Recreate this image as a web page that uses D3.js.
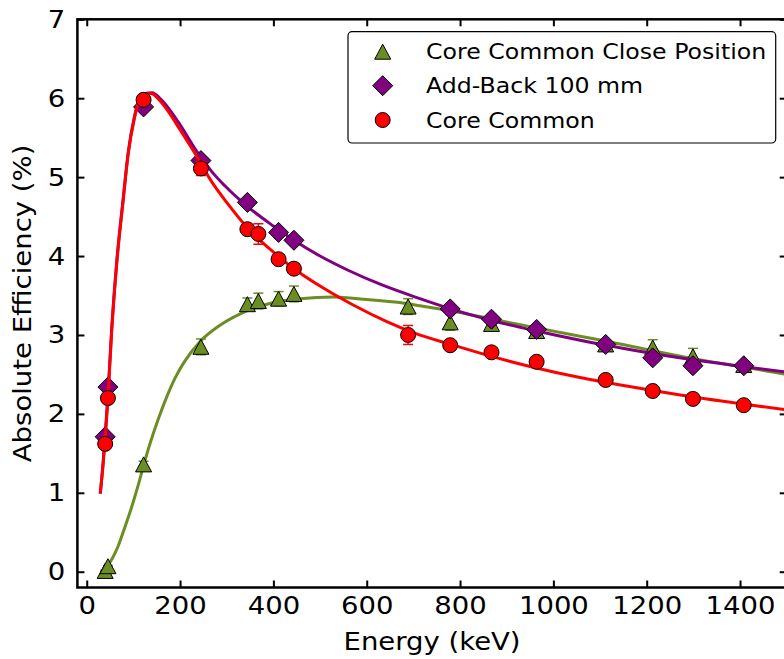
<!DOCTYPE html>
<html>
<head>
<meta charset="utf-8">
<script src="https://cdn.jsdelivr.net/npm/d3@7"></script>
<style>
  html, body { margin: 0; padding: 0; background: #fff; }
  svg { display: block; font-family: "DejaVu Sans", sans-serif; }
</style>
</head>
<body>
<svg id="chart" width="784" height="659"></svg>
<script>
// Eu-152 gamma-line energies (keV)
const energies = [39.5, 45.4, 121.8, 244.7, 344.3, 367.8, 411.1, 444.0, 688.7, 778.9, 867.4, 964.1, 1112.1, 1212.9, 1299.1, 1408.0];

// Core Common, close position
const closeEff = [0.01, 0.07, 1.36, 2.85, 3.39, 3.43, 3.46, 3.52, 3.36, 3.16, 3.14, 3.05, 2.88, 2.84, 2.73, 2.62];
const closeErr = [0.01, 0.01, 0.04, 0.10, 0.08, 0.10, 0.09, 0.10, 0.10, 0.10, 0.05, 0.05, 0.05, 0.10, 0.10, 0.05];

// Add-Back at 100 mm
const addBackEnergies = [39.5, 45.4, 121.8, 244.7, 344.3, 411.1, 444.0, 778.9, 867.4, 964.1, 1112.1, 1212.9, 1299.1, 1408.0];
const addBackEff = [1.71, 2.34, 5.89, 5.21, 4.68, 4.30, 4.20, 3.33, 3.20, 3.07, 2.88, 2.71, 2.61, 2.61];

// Core Common
const coreEff = [1.62, 2.20, 5.98, 5.11, 4.34, 4.28, 3.96, 3.84, 3.00, 2.87, 2.78, 2.66, 2.43, 2.29, 2.19, 2.11];
const coreErr = [0.03, 0.03, 0.05, 0.09, 0.05, 0.13, 0.05, 0.05, 0.12, 0.04, 0.04, 0.04, 0.04, 0.04, 0.04, 0.04];

// Fitted efficiency curves, [energy, efficiency]
const closeFit = [[45.5,0.08],[55,0.17],[67,0.32],[78,0.5],[88.5,0.68],[100,0.89],[110,1.09],[122,1.35],[137,1.65],[153,1.93],[171,2.21],[189,2.45],[207,2.64],[245,2.93],[280,3.1],[330,3.27],[386,3.39],[457,3.46],[528,3.48],[600,3.45],[671,3.41],[714,3.37],[793,3.29],[870,3.2],[964,3.09],[1060,2.98],[1114,2.92],[1213,2.8],[1300,2.7],[1400,2.6],[1500,2.5]];
const addBackFit = [[29,0.99],[35,1.38],[40,1.78],[45,2.2],[53.5,3.08],[65,3.98],[78,4.72],[89,5.32],[102,5.76],[111,5.96],[125,6.06],[140,6.07],[160,5.98],[196,5.7],[232,5.36],[245,5.25],[268,5.07],[296,4.89],[344,4.63],[400,4.38],[444,4.2],[500,4.0],[560,3.82],[630,3.64],[714,3.46],[780,3.33],[870,3.18],[964,3.05],[1060,2.93],[1160,2.82],[1260,2.72],[1380,2.62],[1500,2.53]];
const coreFit = [[29,0.99],[35,1.35],[40,1.72],[45,2.15],[53.5,3.05],[65,3.95],[78,4.7],[89,5.3],[102,5.74],[111,5.95],[125,6.05],[138,6.06],[155,5.98],[175,5.83],[200,5.6],[232,5.3],[268,4.94],[300,4.68],[344,4.36],[400,4.05],[444,3.84],[500,3.62],[571,3.38],[643,3.17],[700,3.03],[780,2.88],[843,2.77],[950,2.6],[1057,2.46],[1160,2.35],[1272,2.24],[1400,2.13],[1500,2.05]];

// Axis ticks
const xTicks = [0, 200, 400, 600, 800, 1000, 1200, 1400];
const yTicks = [0, 1, 2, 3, 4, 5, 6, 7];

const legendLabels = ["Core Common Close Position", "Add-Back 100 mm", "Core Common"];

const green = "#6b8e23", purple = "#800080", red = "#ff0000";
const stretch = "scale(1.1,1)";

const svg = d3.select("#chart");
const x = d3.scaleLinear().domain([-20, 1500]).range([77.4, 786.7]);
const y = d3.scaleLinear().domain([-0.2, 7]).range([587.5, 19.3]);

svg.append("defs").append("clipPath").attr("id", "plotclip")
  .append("rect")
  .attr("x", x.range()[0]).attr("y", y.range()[1])
  .attr("width", x.range()[1] - x.range()[0])
  .attr("height", y.range()[0] - y.range()[1]);

// marker shapes
const triPath = "M0,-7.5L8,7.5L-8,7.5Z";
const diaPath = "M0,-10L10,0L0,10L-10,0Z";

const plot = svg.append("g").attr("clip-path", "url(#plotclip)");

const line = d3.line().x(d => x(d[0])).y(d => y(d[1])).curve(d3.curveMonotoneX);

function errorBars(g, xs, vals, errs, color) {
  const eb = g.append("g").attr("stroke", color).attr("stroke-width", 1.5);
  xs.forEach((e, i) => {
    const cx = x(e), y0 = y(vals[i] - errs[i]), y1 = y(vals[i] + errs[i]);
    eb.append("line").attr("x1", cx).attr("x2", cx).attr("y1", y0).attr("y2", y1);
    eb.append("line").attr("x1", cx - 5).attr("x2", cx + 5).attr("y1", y0).attr("y2", y0);
    eb.append("line").attr("x1", cx - 5).attr("x2", cx + 5).attr("y1", y1).attr("y2", y1);
  });
}

// Close position series
plot.append("path").attr("d", line(closeFit)).attr("fill", "none")
  .attr("stroke", green).attr("stroke-width", 3);
errorBars(plot, energies, closeEff, closeErr, green);
plot.append("g").selectAll("path").data(energies).join("path")
  .attr("d", triPath)
  .attr("transform", (e, i) => `translate(${x(e)},${y(closeEff[i])})`)
  .attr("fill", green).attr("stroke", "#000").attr("stroke-width", 1);

// Add-Back series
plot.append("path").attr("d", line(addBackFit)).attr("fill", "none")
  .attr("stroke", purple).attr("stroke-width", 3);
plot.append("g").selectAll("path").data(addBackEnergies).join("path")
  .attr("d", diaPath)
  .attr("transform", (e, i) => `translate(${x(e)},${y(addBackEff[i])})`)
  .attr("fill", purple).attr("stroke", "#000").attr("stroke-width", 1);

// Core Common series
plot.append("path").attr("d", line(coreFit)).attr("fill", "none")
  .attr("stroke", red).attr("stroke-width", 3);
errorBars(plot, energies, coreEff, coreErr, red);
plot.append("g").selectAll("circle").data(energies).join("circle")
  .attr("cx", e => x(e)).attr("cy", (e, i) => y(coreEff[i])).attr("r", 7.5)
  .attr("fill", red).attr("stroke", "#000").attr("stroke-width", 1);

// Axes with inward ticks on all four sides
const fontSize = 25;
function styleAxis(g) {
  g.select(".domain").remove();
  g.selectAll(".tick line").attr("stroke", "#000").attr("stroke-width", 2);
  g.selectAll(".tick text").attr("fill", "#000").attr("font-size", fontSize)
    .attr("font-family", "DejaVu Sans").attr("transform", stretch);
}

svg.append("g").attr("transform", `translate(0,${y.range()[0]})`)
  .call(d3.axisBottom(x).tickValues(xTicks).tickFormat(d3.format("d"))
    .tickSizeInner(-7).tickSizeOuter(0).tickPadding(9))
  .call(styleAxis);
svg.append("g").attr("transform", `translate(0,${y.range()[1]})`)
  .call(d3.axisTop(x).tickValues(xTicks).tickSizeInner(-7).tickSizeOuter(0).tickFormat(""))
  .call(styleAxis);
svg.append("g").attr("transform", `translate(${x.range()[0]},0)`)
  .call(d3.axisLeft(y).tickValues(yTicks).tickFormat(d3.format("d"))
    .tickSizeInner(-7).tickSizeOuter(0).tickPadding(11))
  .call(styleAxis);
svg.append("g").attr("transform", `translate(${x.range()[1]},0)`)
  .call(d3.axisRight(y).tickValues(yTicks).tickSizeInner(-7).tickSizeOuter(0).tickFormat(""))
  .call(styleAxis);

// frame
svg.append("rect")
  .attr("x", x.range()[0]).attr("y", y.range()[1])
  .attr("width", x.range()[1] - x.range()[0])
  .attr("height", y.range()[0] - y.range()[1])
  .attr("fill", "none").attr("stroke", "#000").attr("stroke-width", 2.5);

// axis titles
svg.append("text")
  .attr("transform", `translate(${(x.range()[0] + x.range()[1]) / 2},650) ${stretch}`)
  .attr("text-anchor", "middle").attr("font-size", fontSize).attr("fill", "#000")
  .text("Energy (keV)");
svg.append("text")
  .attr("transform", `translate(31,${(y.range()[0] + y.range()[1]) / 2}) rotate(-90) ${stretch}`)
  .attr("text-anchor", "middle").attr("font-size", fontSize).attr("fill", "#000")
  .text("Absolute Efficiency (%)");

// legend
const legend = svg.append("g");
legend.append("rect").attr("x", 348).attr("y", 31.7).attr("width", 427.7).attr("height", 111.3)
  .attr("rx", 4).attr("fill", "#fff").attr("stroke", "#000").attr("stroke-width", 1.2);
const rows = [51.7, 85.7, 120];
legend.append("path").attr("d", triPath).attr("transform", `translate(382.7,${rows[0]})`)
  .attr("fill", green).attr("stroke", "#000").attr("stroke-width", 1);
legend.append("path").attr("d", diaPath).attr("transform", `translate(382.7,${rows[1]})`)
  .attr("fill", purple).attr("stroke", "#000").attr("stroke-width", 1);
legend.append("circle").attr("cx", 382.7).attr("cy", rows[2]).attr("r", 7.5)
  .attr("fill", red).attr("stroke", "#000").attr("stroke-width", 1);
legendLabels.forEach((t, i) => {
  legend.append("text")
    .attr("transform", `translate(426,${rows[i]}) ${stretch}`)
    .attr("dy", "0.35em").attr("font-size", 21.5).attr("fill", "#000")
    .text(t);
});
</script>
</body>
</html>
